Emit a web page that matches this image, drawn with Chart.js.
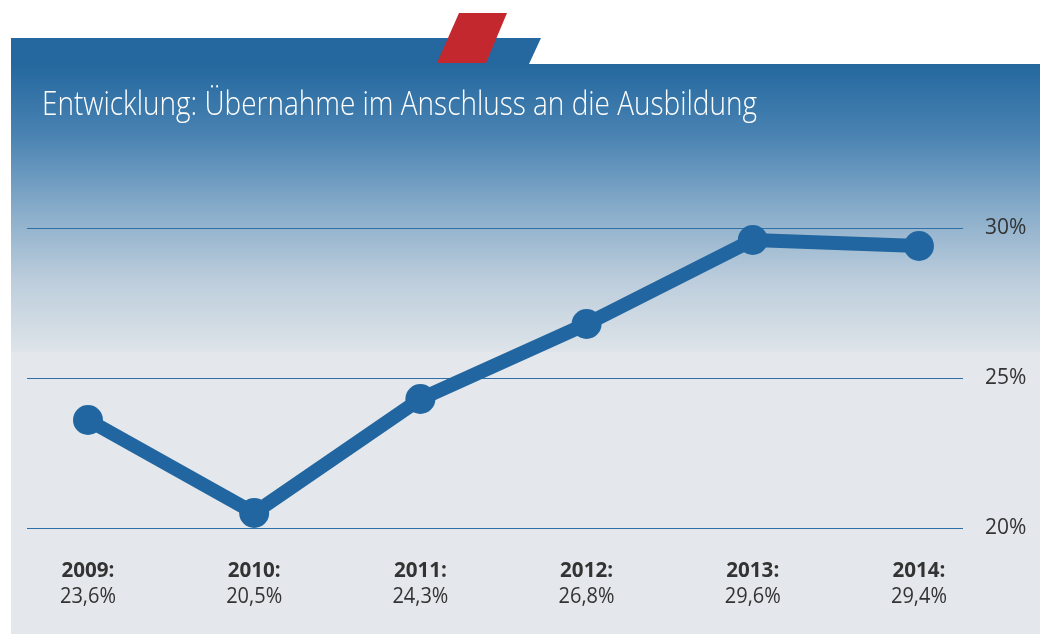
<!DOCTYPE html>
<html><head><meta charset="utf-8">
<script src="https://cdn.jsdelivr.net/npm/chart.js@4.4.1/dist/chart.umd.min.js"></script>
<style>html,body{margin:0;padding:0;background:#fff}canvas{display:block}</style>
</head><body>
<canvas id="c" width="1044" height="635"></canvas>
<script>
const title = "Entwicklung: Übernahme im Anschluss an die Ausbildung";
const years = ["2009", "2010", "2011", "2012", "2013", "2014"];
const values = [23.6, 20.5, 24.3, 26.8, 29.6, 29.4];
const valueLabels = ["23,6%", "20,5%", "24,3%", "26,8%", "29,6%", "29,4%"];
const yTicks = [20, 25, 30];

const LINE = "#2166a0";

const bgPlugin = {
  id: "bg",
  beforeDraw(chart) {
    const ctx = chart.ctx;
    ctx.save();
    ctx.fillStyle = "#ffffff";
    ctx.fillRect(0, 0, 1044, 635);
    // lower flat panel
    ctx.fillStyle = "#e4e8ec";
    ctx.fillRect(11, 352, 1029, 282);
    // gradient panel
    const g = ctx.createLinearGradient(0, 64, 0, 352);
    g.addColorStop(0, "#24689f");
    g.addColorStop(0.25, "#4a83b2");
    g.addColorStop(0.5, "#86abc9");
    g.addColorStop(0.75, "#bccddc");
    g.addColorStop(1, "#dee4e9");
    ctx.fillStyle = g;
    ctx.fillRect(11, 64, 1029, 288);
    // top strip
    ctx.fillStyle = "#24689f";
    ctx.beginPath();
    ctx.moveTo(11, 38); ctx.lineTo(541, 38); ctx.lineTo(529, 64); ctx.lineTo(11, 64);
    ctx.closePath(); ctx.fill();
    // red parallelogram
    ctx.fillStyle = "#c4282f";
    ctx.beginPath();
    ctx.moveTo(459, 13); ctx.lineTo(507, 13); ctx.lineTo(486, 63); ctx.lineTo(437, 63);
    ctx.closePath(); ctx.fill();
    // title
    ctx.fillStyle = "#ffffff";
    ctx.font = "300 33px 'Open Sans'";
    ctx.textBaseline = "alphabetic";
    ctx.textAlign = "left";
    ctx.fillText(title, 42, 115, 715);
    ctx.restore();
  },
  afterDraw(chart) {
    const ctx = chart.ctx;
    const xs = chart.scales.x;
    ctx.save();
    ctx.fillStyle = "#333333";
    ctx.textAlign = "center";
    ctx.textBaseline = "alphabetic";
    years.forEach((y, i) => {
      const px = xs.getPixelForValue(i);
      ctx.font = "bold 21px 'Open Sans'";
      ctx.fillText(y + ":", px, 577, 53);
      ctx.font = "21px 'Open Sans'";
      ctx.fillText(valueLabels[i], px, 603, 56);
    });
    ctx.restore();
  }
};

new Chart(document.getElementById("c"), {
  type: "line",
  data: {
    datasets: [{
      data: values.map((v, i) => ({ x: i, y: v })),
      borderColor: LINE,
      backgroundColor: LINE,
      borderWidth: 14,
      pointRadius: 15,
      pointHoverRadius: 15,
      pointBackgroundColor: LINE,
      pointBorderWidth: 0,
      tension: 0,
      clip: false,
      borderJoinStyle: "round"
    }]
  },
  options: {
    responsive: false,
    animation: false,
    devicePixelRatio: 1,
    layout: { padding: { left: 27, top: 228, right: 0, bottom: 107 } },
    plugins: { legend: { display: false }, tooltip: { enabled: false }, title: { display: false } },
    scales: {
      x: { type: "linear", min: -0.367, max: 5.265, display: false },
      y: {
        position: "right",
        min: 20, max: 30,
        afterBuildTicks(s) { s.ticks = yTicks.map(v => ({ value: v })); },
        afterFit(s) { s.width = 81; },
        border: { display: false },
        grid: { color: "#2f6ea6", lineWidth: 1, drawTicks: false },
        ticks: {
          padding: 22,
          color: "#333333",
          font: { family: "'Open Sans'", size: 21 },
          callback: v => v + "%"
        }
      }
    }
  },
  plugins: [bgPlugin]
});
</script>
</body></html>
